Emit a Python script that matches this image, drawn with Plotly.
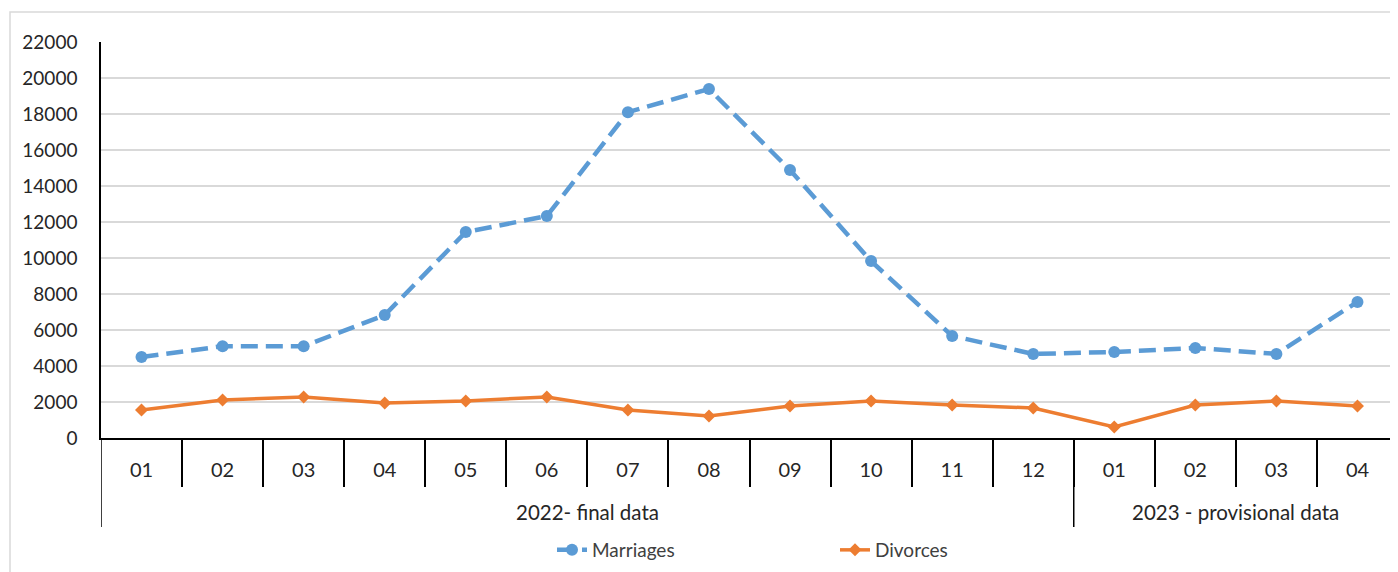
import plotly.graph_objects as go

months = ["01", "02", "03", "04", "05", "06", "07", "08", "09", "10", "11", "12",
          "01", "02", "03", "04"]
group_names = ["2022- final data", "2023 - provisional data"]
group_sizes = [12, 4]
marriages = [4500, 5100, 5100, 6830, 11440, 12330, 18100, 19390, 14890, 9830, 5670, 4670,
             4780, 5000, 4670, 7560]
divorces = [1560, 2110, 2280, 1940, 2060, 2280, 1560, 1220, 1780, 2060, 1830, 1670,
            610, 1830, 2060, 1780]

# page body has an 8px margin, so the figure is sized/offset accordingly
OFF = 8
W, H = 1398 - OFF, 572 - OFF
L, R, T, B = 101 - OFF, 0, 42 - OFF, 134
FONT = "Lato"
pw = W - L - R
ph = H - T - B
plot_bottom = T + ph  # figure px


def py(screen_y):
    """screen y (reference px) -> paper y"""
    return -((screen_y - OFF) - plot_bottom) / ph


def px(screen_x):
    return ((screen_x - OFF) - L) / pw


xs = list(range(len(months)))

fig = go.Figure()
fig.add_trace(go.Scatter(
    x=xs, y=marriages, name="Marriages", mode="lines+markers",
    line=dict(color="#5B9BD5", width=4.5, dash="17px,8px"),
    marker=dict(symbol="circle", size=12, color="#5B9BD5"),
))
fig.add_trace(go.Scatter(
    x=xs, y=divorces, name="Divorces", mode="lines+markers",
    line=dict(color="#ED7D31", width=3.5),
    marker=dict(symbol="diamond", size=10, color="#ED7D31"),
))

# outer chart frame
fig.add_shape(type="rect", xref="paper", yref="paper",
              x0=px(10), x1=px(1403), y0=py(580), y1=py(12),
              line=dict(color="#D9D9D9", width=1.5), fillcolor="rgba(0,0,0,0)",
              layer="below")

# group dividers and labels
start = 0
bounds = []
for name, n in zip(group_names, group_sizes):
    end = start + n
    bounds.append(start - 0.5)
    fig.add_annotation(x=(start + end - 1) / 2, xref="x", y=py(512), yref="paper",
                       text=name, showarrow=False, yanchor="middle",
                       font=dict(family=FONT, size=20.5, color="#262626"))
    start = end
for b in bounds:
    fig.add_shape(type="line", xref="x", yref="paper", x0=b, x1=b, y0=0, y1=py(527),
                  line=dict(color="black", width=1.5))

fig.update_layout(
    width=W, height=H,
    margin=dict(l=L, r=R, t=T, b=B, autoexpand=False),
    paper_bgcolor="white", plot_bgcolor="white",
    font=dict(family=FONT, size=19, color="#262626"),
    showlegend=True,
    legend=dict(orientation="h", x=px(552), xanchor="left",
                y=py(550), yanchor="middle",
                font=dict(size=19, color="#404040"), entrywidth=238, entrywidthmode="pixels",
                tracegroupgap=0),
    xaxis=dict(
        range=[-0.5, len(months) - 0.5], showgrid=False, showline=True,
        linecolor="black", linewidth=1.5, zeroline=False, automargin=False,
        tickmode="array", tickvals=xs, ticktext=months, ticks="",
        ticklabelstandoff=13,
        minor=dict(tickmode="array", tickvals=[i + 0.5 for i in xs[:-1]], ticks="outside",
                   ticklen=(485 - 438), tickcolor="black", tickwidth=1.5, showgrid=False),
        tickfont=dict(size=20, color="#262626"),
    ),
    yaxis=dict(
        range=[0, 22000], dtick=2000, tickformat="d", showgrid=True, gridcolor="#D9D9D9",
        gridwidth=1.5, showline=True, linecolor="black", linewidth=1.5, zeroline=False,
        ticks="", ticklabelstandoff=18, automargin=False,
        tickfont=dict(size=19, color="#262626"),
    ),
)

fig.write_html("out.html")
